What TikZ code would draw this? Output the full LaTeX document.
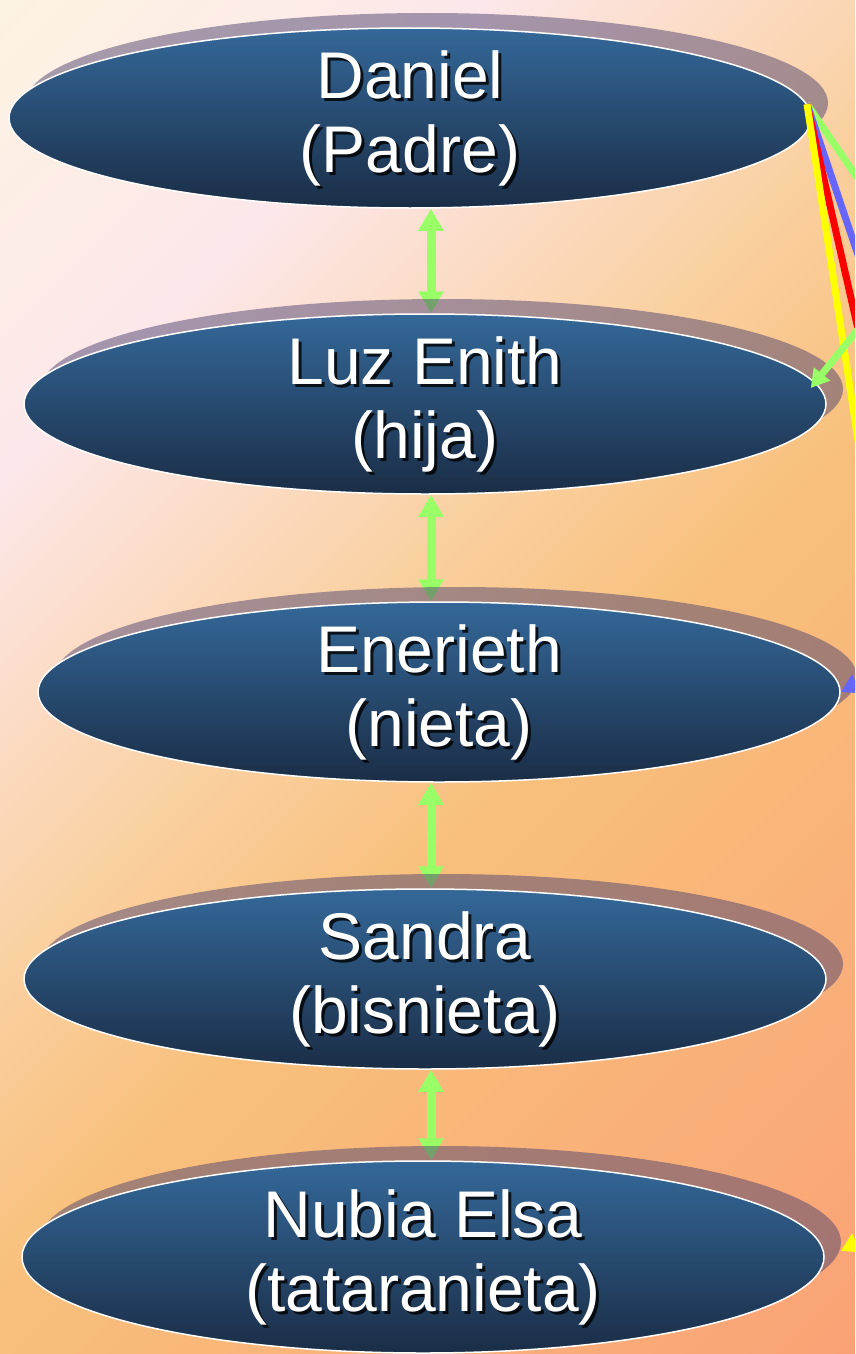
\documentclass[tikz,border=0pt]{standalone}
\usepackage{fontspec}
\setmainfont{Liberation Sans}
\usetikzlibrary{positioning,shapes.geometric,arrows.meta,shadows,backgrounds}
\definecolor{fondoA}{RGB}{253,243,226}
\definecolor{fondoB}{RGB}{252,231,234}
\definecolor{fondoC}{RGB}{250,208,160}
\definecolor{fondoD}{RGB}{248,192,124}
\definecolor{fondoE}{RGB}{250,162,118}
\definecolor{elipseArriba}{RGB}{52,104,153}
\definecolor{elipseAbajo}{RGB}{26,45,70}
\definecolor{sombra}{RGB}{80,68,112}
\definecolor{verde}{RGB}{153,255,102}
\definecolor{azul}{RGB}{102,102,255}
\definecolor{rojo}{RGB}{255,0,0}
\definecolor{amarillo}{RGB}{255,255,0}
\pgfdeclarehorizontalshading{fondoDiag}{100bp}{color(0bp)=(fondoA); color(14.6bp)=(fondoA); color(30bp)=(fondoB); color(46bp)=(fondoC); color(56bp)=(fondoD); color(85.4bp)=(fondoE); color(100bp)=(fondoE)}
\pgfdeclarelayer{fondo}
\pgfsetlayers{fondo,background,main}
\tikzset{
    Persona/.style={ellipse, draw=white, line width=1.5pt, top color=elipseArriba, bottom color=elipseAbajo, minimum width=802pt, minimum height=180pt, inner sep=0pt,
        general shadow={shadow xshift=17pt, shadow yshift=15pt, draw=none, fill=sombra, opacity=.5}},
    Texto/.style={text=white, align=center, inner sep=0pt, font=\fontsize{66}{74}\selectfont},
    TextoSombra/.style={Texto, text=black, opacity=.8},
    FlechaV/.style={draw=verde, line width=9pt, {Triangle[width=24pt,length=22pt]}-{Triangle[width=24pt,length=22pt]}},
    Linea/.style={line width=7pt},
    FlechaE/.style={line width=7pt, -{Triangle[width=20pt,length=18pt]}}
    }
\begin{document}
\begin{tikzpicture}[x=1pt, y=-1pt]

\useasboundingbox (0,0) rectangle (855,1354);
\clip (0,0) rectangle (855,1354);
\begin{pgfonlayer}{fondo}
\shade[shading=fondoDiag, shading angle=-45] (0,0) rectangle (855,1354);
\end{pgfonlayer}

\node[Persona] (Daniel) at (410,118) {};
\node[TextoSombra] (DanielS) at ([shift={(3,3)}]Daniel.center) {Daniel\\(Padre)};
\node[Texto] (DanielT) at (Daniel.center) {Daniel\\(Padre)};

\node[Persona] (Luz) at (425,404) {};
\node[TextoSombra] (LuzS) at ([shift={(3,3)}]Luz.center) {Luz Enith\\(hija)};
\node[Texto] (LuzT) at (Luz.center) {Luz Enith\\(hija)};

\node[Persona] (Enerieth) at (439,692) {};
\node[TextoSombra] (EneriethS) at ([shift={(3,3)}]Enerieth.center) {Enerieth\\(nieta)};
\node[Texto] (EneriethT) at (Enerieth.center) {Enerieth\\(nieta)};

\node[Persona] (Sandra) at (425,979) {};
\node[TextoSombra] (SandraS) at ([shift={(3,3)}]Sandra.center) {Sandra\\(bisnieta)};
\node[Texto] (SandraT) at (Sandra.center) {Sandra\\(bisnieta)};

\node[Persona, minimum height=192pt] (Nubia) at (423,1257) {};
\node[TextoSombra] (NubiaS) at ([shift={(3,3)}]Nubia.center) {Nubia Elsa\\(tataranieta)};
\node[Texto] (NubiaT) at (Nubia.center) {Nubia Elsa\\(tataranieta)};

\coordinate (eje) at (431,0);
\begin{pgfonlayer}{background}
\draw[FlechaV] (Daniel.south -| eje) -- (Luz.north -| eje);
\draw[FlechaV] (Luz.south -| eje) -- (Enerieth.north -| eje);
\draw[FlechaV] (Enerieth.south -| eje) -- (Sandra.north -| eje);
\draw[FlechaV] (Sandra.south -| eje) -- (Nubia.north -| eje);
\end{pgfonlayer}

% lineas que salen del cuadro
\coordinate (hijoVerde) at (880,211);
\coordinate (hijoAzul) at (880,320);
\coordinate (hijoRojo) at (880,426);
\coordinate (hijoAmarillo) at (880,586);
\draw[Linea, verde] (Daniel.2) -- (hijoVerde);
\draw[Linea, azul] (Daniel.2) -- (hijoAzul);
\draw[Linea, rojo] (Daniel.2) -- (hijoRojo);
\draw[Linea, amarillo] (Daniel.2) -- (hijoAmarillo);

\coordinate (deLuz) at (880,302);
\coordinate (deEnerieth) at (900,662);
\coordinate (deNubia) at (900,1221);
\draw[FlechaE, verde] (deLuz) -- ([shift={(-16,-16)}]Luz.east);
\draw[FlechaE, azul] (deEnerieth) -- (Enerieth.east);
\draw[FlechaE, amarillo] (deNubia) -- ([shift={(16,-6)}]Nubia.east);

\end{tikzpicture}
\end{document}
